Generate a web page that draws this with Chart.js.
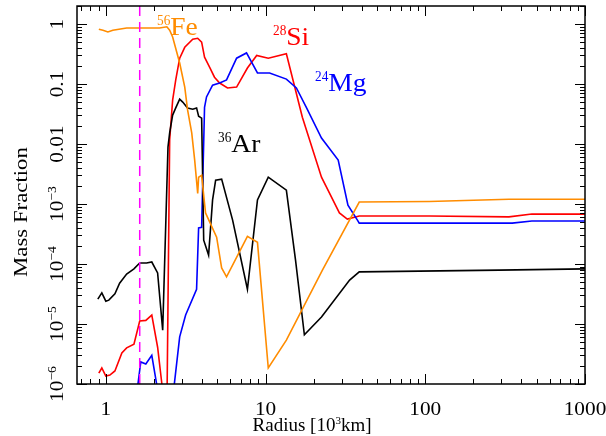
<!DOCTYPE html>
<html>
<head>
<meta charset="utf-8">
<script src="https://cdn.jsdelivr.net/npm/chart.js@4/dist/chart.umd.min.js"></script>
<style>
html, body { margin: 0; padding: 0; background: #fff; }
</style>
</head>
<body>
<canvas id="myChart" width="606" height="436"></canvas>
<script>
// radius in 10^3 km
var feRadius = [0.904, 0.96, 1.03, 1.106, 1.35, 1.63, 2.17, 2.41, 2.51, 2.62, 2.9, 3.12, 3.25, 3.45, 3.6, 3.76, 3.81, 3.98, 4.21, 4.94, 5.31, 5.7, 7.7, 8.9, 10.4, 13.5, 22.7, 38.6, 106, 334, 1000];
var feMass = [0.82, 0.79, 0.74, 0.79, 0.86, 0.86, 0.86, 0.90, 0.79, 0.61, 0.224, 0.089, 0.037, 0.0153, 0.0054, 0.0015, 0.0028, 0.003, 7.1e-4, 2.8e-4, 8.6e-5, 6.1e-5, 2.9e-4, 2.3e-4, 1.85e-6, 5.4e-6, 7.9e-5, 1.08e-3, 1.1e-3, 1.2e-3, 1.2e-3];

var siRadius = [0.904, 0.944, 1.0, 1.06, 1.14, 1.26, 1.35, 1.5, 1.63, 1.78, 1.94, 2.11, 2.24, 2.31, 2.40, 2.51, 2.62, 2.74, 2.9, 3.12, 3.5, 3.76, 3.98, 4.15, 4.47, 4.79, 5.16, 5.78, 6.59, 7.7, 8.8, 10.4, 13.5, 17.0, 22.4, 29.0, 32.5, 38.6, 106, 334, 465, 1000];
var siMass = [1.52e-6, 1.85e-6, 1.36e-6, 1.41e-6, 1.65e-6, 3.3e-6, 4.0e-6, 4.6e-6, 1.12e-5, 1.15e-5, 1.41e-5, 4.1e-6, 1.04e-6, 1e-7, 1e-7, 0.0117, 0.054, 0.117, 0.27, 0.41, 0.56, 0.58, 0.5, 0.28, 0.19, 0.13, 0.104, 0.086, 0.089, 0.185, 0.30, 0.27, 0.32, 0.028, 0.0028, 7.1e-4, 5.6e-4, 6.3e-4, 6.3e-4, 6.1e-4, 6.8e-4, 6.8e-4];

var mgRadius = [1.5, 1.655, 1.78, 1.94, 2.08, 2.2, 2.55, 2.9, 3.16, 3.7, 3.81, 3.98, 4.15, 4.27, 4.66, 5.16, 5.7, 6.59, 7.6, 8.9, 10.6, 13.5, 15.6, 18.0, 22.4, 28.5, 32.8, 37.6, 38.6, 350, 465, 1000];
var mgMass = [3e-7, 2.33e-6, 2.15e-6, 3.0e-6, 1e-6, 1e-7, 3e-7, 6.1e-6, 1.41e-5, 3.8e-5, 4.0e-4, 4.1e-4, 0.041, 0.061, 0.096, 0.104, 0.117, 0.27, 0.33, 0.153, 0.153, 0.121, 0.086, 0.041, 0.0126, 0.0054, 9.6e-4, 5.4e-4, 4.8e-4, 4.8e-4, 5.2e-4, 5.2e-4];

var arRadius = [0.891, 0.944, 1.0, 1.044, 1.14, 1.22, 1.35, 1.5, 1.63, 1.8, 1.94, 2.11, 2.27, 2.45, 2.51, 2.62, 2.74, 2.9, 3.03, 3.25, 3.5, 3.7, 3.81, 3.98, 4.1, 4.4, 4.66, 4.87, 5.31, 6.22, 7.7, 8.9, 10.4, 13.5, 15.4, 17.5, 22.4, 33.6, 38.6, 290, 1000];
var arMass = [2.6e-5, 3.3e-5, 2.4e-5, 2.5e-5, 3.2e-5, 4.8e-5, 6.8e-5, 8.3e-5, 1.04e-4, 1.04e-4, 1.08e-4, 7.1e-5, 7.9e-6, 0.0089, 0.0153, 0.0304, 0.04, 0.056, 0.05, 0.04, 0.038, 0.04, 0.029, 0.027, 2.5e-4, 1.41e-4, 1.17e-3, 2.5e-3, 2.6e-3, 5.4e-4, 3.8e-5, 1.17e-3, 2.8e-3, 1.7e-3, 1.17e-4, 6.6e-6, 1.31e-5, 5.4e-5, 7.4e-5, 7.9e-5, 8.3e-5];

var cutRadius = 1.63;

var xTicks = [1, 10, 100, 1000];
var xTickLabels = ['1', '10', '100', '1000'];
var yTicks = [1, 0.1, 0.01, 1e-3, 1e-4, 1e-5, 1e-6];
var yTickLabels = [['1', ''], ['0.1', ''], ['0.01', ''], ['10', '\u22123'], ['10', '\u22124'], ['10', '\u22125'], ['10', '\u22126']];

var isotopes = [
	{sup: '56', name: 'Fe', color: '#ff8c00', x: 157, y: 35},
	{sup: '28', name: 'Si', color: '#ff0000', x: 273, y: 45},
	{sup: '24', name: 'Mg', color: '#0000ff', x: 315, y: 91},
	{sup: '36', name: 'Ar', color: '#000000', x: 218, y: 152}
];

function pts(xs, ys){
	return xs.map((v, i) => ({x: v, y: ys[i]}));
}

var SERIF = "'Liberation Serif', 'Times New Roman', serif";

// draws a row of [text, size, raise, stretch] parts
function drawParts(ctx, parts, x, y, align, rotate){
	ctx.save();
	ctx.translate(x, y);
	if(rotate) ctx.rotate(-Math.PI/2);
	let w = 0;
	parts.forEach(p => { ctx.font = p[1] + 'px ' + SERIF; w += ctx.measureText(p[0]).width * p[3]; });
	let cx = align === 'center' ? -w/2 : 0;
	ctx.textAlign = 'left';
	parts.forEach(p => {
		ctx.font = p[1] + 'px ' + SERIF;
		ctx.save();
		ctx.translate(cx, -p[2]);
		ctx.scale(p[3], 1);
		ctx.fillText(p[0], 0, 0);
		ctx.restore();
		cx += ctx.measureText(p[0]).width * p[3];
	});
	ctx.restore();
}

var framePlugin = {
	id: 'frame',
	afterDraw(chart){
		const ctx = chart.ctx;
		const a = chart.chartArea;
		const xs = chart.scales.x, ys = chart.scales.y;
		ctx.save();
		ctx.strokeStyle = '#000';
		ctx.lineWidth = 1.5;
		ctx.strokeRect(a.left, a.top, a.right - a.left, a.bottom - a.top);
		ctx.lineWidth = 1;
		ctx.beginPath();
		for(let d = -1; d <= 3; d++){
			for(let m = 1; m <= 9; m++){
				let v = m * Math.pow(10, d);
				if(v < xs.min || v > xs.max * 1.0001) continue;
				let px = Math.round(xs.getPixelForValue(v)) + 0.5;
				let len = m === 1 ? 10 : 5;
				ctx.moveTo(px, a.bottom); ctx.lineTo(px, a.bottom - len);
				ctx.moveTo(px, a.top); ctx.lineTo(px, a.top + len);
			}
		}
		for(let d = -6; d <= 0; d++){
			for(let m = 1; m <= 9; m++){
				let v = m * Math.pow(10, d);
				if(v < ys.min * 0.9999 || v > ys.max) continue;
				let py = Math.round(ys.getPixelForValue(v)) + 0.5;
				let len = m === 1 ? 10 : 5;
				ctx.moveTo(a.left, py); ctx.lineTo(a.left + len, py);
				ctx.moveTo(a.right, py); ctx.lineTo(a.right - len, py);
			}
		}
		ctx.stroke();

		ctx.fillStyle = '#000';
		ctx.textBaseline = 'alphabetic';
		xTicks.forEach((v, i) => {
			drawParts(ctx, [[xTickLabels[i], 19, 0, 1.12]], xs.getPixelForValue(v), 415, 'center', false);
		});
		yTicks.forEach((v, i) => {
			let l = yTickLabels[i];
			drawParts(ctx, [[l[0], 19, 0, 1.12], [l[1], 13, 7, 1.05]], 63, ys.getPixelForValue(v), 'center', true);
		});

		drawParts(ctx, [['Mass Fraction', 19, 0, 1.2]], 27, 212, 'center', true);
		drawParts(ctx, [['Radius [10', 19, 0, 1.0], ['3', 11, 7, 1.0], ['km]', 19, 0, 1.0]], 312, 431, 'center', false);

		isotopes.forEach(t => {
			ctx.fillStyle = t.color;
			drawParts(ctx, [[t.sup, 14, 10, 0.95], [t.name, 25, 0, 1.1]], t.x, t.y, 'left', false);
		});
		ctx.restore();
	}
};

function renderChart(){
	var ctx = document.getElementById('myChart').getContext('2d');
	var chart = new Chart(ctx, {
		type: 'line',
		data: {
			datasets: [
				{label: 'cut', data: pts([cutRadius, cutRadius], [1e-6, 2]), borderColor: '#ff00ff', borderDash: [10, 6], borderWidth: 1.5},
				{label: '56Fe', data: pts(feRadius, feMass), borderColor: '#ff8c00'},
				{label: '36Ar', data: pts(arRadius, arMass), borderColor: '#000000'},
				{label: '24Mg', data: pts(mgRadius, mgMass), borderColor: '#0000ff'},
				{label: '28Si', data: pts(siRadius, siMass), borderColor: '#ff0000'}
			]
		},
		options: {
			responsive: false,
			animation: false,
			layout: {padding: {top: 6, right: 21, left: 0, bottom: 0}},
			plugins: {legend: {display: false}, tooltip: {enabled: false}},
			elements: {point: {radius: 0}, line: {tension: 0, borderWidth: 1.6, fill: false}},
			scales: {
				x: {
					type: 'logarithmic', min: 0.66, max: 1000,
					grid: {display: false}, border: {display: false}, ticks: {display: false},
					afterFit: s => { s.height = 52; }
				},
				y: {
					type: 'logarithmic', min: 1e-6, max: 2,
					grid: {display: false}, border: {display: false}, ticks: {display: false},
					afterFit: s => { s.width = 77; }
				}
			}
		},
		plugins: [framePlugin]
	});
}
renderChart();
</script>
</body>
</html>
